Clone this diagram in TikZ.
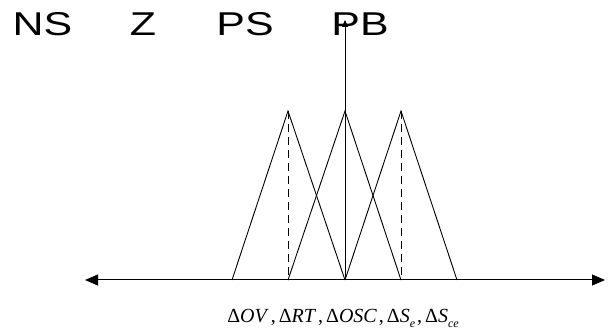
\documentclass[tikz,border=0pt]{standalone}
\usepackage{fontspec}
\setmainfont{Liberation Serif}
\newfontfamily\labelsans{Liberation Sans}
\usetikzlibrary{arrows.meta}
\newcommand{\widetext}[2]{\scalebox{#1}[1]{#2}}
\newcommand{\subidx}[1]{\raisebox{-5pt}{\fontsize{12}{12}\selectfont\textit{#1}}}
\newcommand{\sep}{\kern2pt,\kern3pt}
\tikzset{
  mf/.style={line width=0.9pt, line join=miter},
  guide/.style={line width=0.9pt, dash pattern=on 8pt off 5pt},
  setlabel/.style={font=\labelsans\fontsize{33}{33}\selectfont, inner sep=0pt, anchor=base},
  axis/.style={line width=1pt, {Triangle[length=13pt,width=11pt]}-{Triangle[length=13pt,width=11pt]}},
}
\begin{document}
\begin{tikzpicture}[x=1pt,y=-1pt]
\useasboundingbox (0,0) rectangle (608,336);
% base points and peaks
\coordinate (b1) at (232,280);
\coordinate (b2) at (288,280);
\coordinate (b3) at (345,280);
\coordinate (b4) at (401,280);
\coordinate (b5) at (457,280);
\coordinate (p1) at (288,111);
\coordinate (p2) at (345,111);
\coordinate (p3) at (401,111);
\coordinate (xl) at (85,280);
\coordinate (xr) at (605,280);
\coordinate (yt) at (345,20);
% horizontal axis
\draw[axis] (xl) -- (xr);
% membership triangles
\draw[mf] (b1) -- (p1) -- (b3);
\draw[mf] (b2) -- (p2) -- (b4);
\draw[mf] (b3) -- (p3) -- (b5);
% dashed peak guides
\draw[guide] (p1) -- (b2);
\draw[guide] (p3) -- (b4);
% vertical axis
\draw[line width=0.9pt, -{Triangle[length=7pt,width=6pt]}] (b3) -- (yt);
% linguistic labels
\node[setlabel] (ns) at (42.5,36) {\widetext{1.3}{NS}};
\node[setlabel] (z) at (143,36) {\widetext{1.3}{Z}};
\node[setlabel] (ps) at (245,36) {\widetext{1.3}{PS}};
\node[setlabel] (pb) at (360,36) {\widetext{1.3}{PB}};
% axis label
\node[anchor=base, inner sep=0pt, font=\fontsize{20}{20}\selectfont] (lab) at (343,323)
  {Δ\textit{OV}\sep Δ\textit{RT}\sep Δ\textit{OSC}\sep Δ\textit{S}\subidx{e}\sep Δ\textit{S}\subidx{ce}};
\end{tikzpicture}
\end{document}
